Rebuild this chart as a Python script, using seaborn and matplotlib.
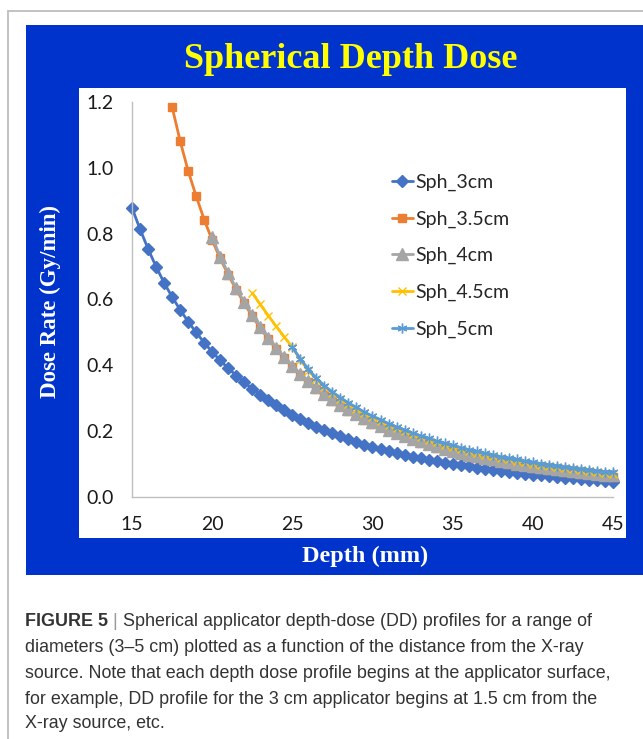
import numpy as np
import pandas as pd
import seaborn as sns
import matplotlib.pyplot as plt
from matplotlib.patches import Rectangle
from matplotlib.lines import Line2D

# Depth (mm) grids, 0.5 mm steps, each curve starts at its applicator surface
depth_3cm = np.arange(15.0, 45.01, 0.5)
depth_35cm = np.arange(17.5, 45.01, 0.5)
depth_4cm = np.arange(20.0, 45.01, 0.5)
depth_45cm = np.arange(22.5, 45.01, 0.5)
depth_5cm = np.arange(25.0, 45.01, 0.5)

# Dose rate (Gy/min)
sph_3cm = [0.878, 0.814, 0.754, 0.700, 0.651, 0.608, 0.569, 0.533, 0.500, 0.469,
           0.441, 0.415, 0.391, 0.369, 0.348, 0.329, 0.311, 0.294, 0.278, 0.263,
           0.250, 0.237, 0.225, 0.214, 0.203, 0.193, 0.184, 0.175, 0.167, 0.159,
           0.152, 0.145, 0.139, 0.133, 0.127, 0.122, 0.117, 0.112, 0.108, 0.104,
           0.100, 0.096, 0.093, 0.089, 0.086, 0.083, 0.079, 0.076, 0.074, 0.071,
           0.068, 0.066, 0.063, 0.061, 0.059, 0.057, 0.055, 0.053, 0.051, 0.049,
           0.047]
sph_35cm = [1.185, 1.082, 0.991, 0.914, 0.843, 0.780, 0.725, 0.675, 0.630, 0.588,
            0.549, 0.513, 0.480, 0.449, 0.421, 0.395, 0.371, 0.349, 0.329, 0.310,
            0.293, 0.277, 0.262, 0.248, 0.235, 0.223, 0.212, 0.201, 0.191, 0.182,
            0.173, 0.165, 0.157, 0.150, 0.143, 0.137, 0.131, 0.125, 0.120, 0.115,
            0.110, 0.105, 0.101, 0.097, 0.093, 0.089, 0.086, 0.083, 0.080, 0.077,
            0.074, 0.071, 0.069, 0.066, 0.064, 0.062]
sph_4cm = [0.790, 0.730, 0.680, 0.634, 0.592, 0.553, 0.517, 0.484, 0.453, 0.425,
           0.399, 0.375, 0.353, 0.333, 0.314, 0.297, 0.281, 0.266, 0.252, 0.239,
           0.227, 0.216, 0.205, 0.195, 0.186, 0.177, 0.169, 0.161, 0.154, 0.147,
           0.141, 0.135, 0.129, 0.124, 0.119, 0.114, 0.109, 0.105, 0.101, 0.097,
           0.093, 0.090, 0.087, 0.084, 0.081, 0.078, 0.075, 0.073, 0.070, 0.068,
           0.066]
sph_45cm = [0.620, 0.585, 0.551, 0.518, 0.486, 0.455, 0.416, 0.384, 0.357, 0.334,
            0.315, 0.298, 0.282, 0.268, 0.254, 0.242, 0.231, 0.219, 0.209, 0.200,
            0.190, 0.182, 0.174, 0.166, 0.159, 0.153, 0.146, 0.140, 0.135, 0.129,
            0.124, 0.118, 0.114, 0.110, 0.105, 0.101, 0.097, 0.094, 0.091, 0.087,
            0.084, 0.081, 0.079, 0.075, 0.073, 0.071]
sph_5cm = [0.455, 0.420, 0.388, 0.361, 0.338, 0.319, 0.302, 0.286, 0.272, 0.258,
           0.246, 0.235, 0.223, 0.213, 0.204, 0.194, 0.186, 0.178, 0.170, 0.163,
           0.157, 0.150, 0.144, 0.139, 0.133, 0.128, 0.122, 0.118, 0.114, 0.109,
           0.105, 0.101, 0.098, 0.095, 0.091, 0.088, 0.085, 0.083, 0.079, 0.077,
           0.075]

labels = ['Sph_3cm', 'Sph_3.5cm', 'Sph_4cm', 'Sph_4.5cm', 'Sph_5cm']
depths = [depth_3cm, depth_35cm, depth_4cm, depth_45cm, depth_5cm]
doses = [sph_3cm, sph_35cm, sph_4cm, sph_45cm, sph_5cm]
colors = ['#4472C4', '#ED7D31', '#A5A5A5', '#FFC000', '#5B9BD5']
markers = ['D', 's', '^', 'x', (6, 2, 0)]
msizes = [6.5, 6, 8, 6, 7]

x_ticks = [15, 20, 25, 30, 35, 40, 45]
y_ticks = [0.0, 0.2, 0.4, 0.6, 0.8, 1.0, 1.2]

W, H = 643, 739
sns.set_style('white')

fig = plt.figure(figsize=(W / 100, H / 100), dpi=100)


def px_rect(x0, y0, x1, y1, **kw):
    # rectangle given in pixel coords of the picture (origin top-left)
    return Rectangle((x0 / W, 1 - y1 / H), (x1 - x0) / W, (y1 - y0) / H,
                     transform=fig.transFigure, **kw)


# gray page frame, blue slide, white chart area
fig.add_artist(Line2D([8 / W, 8 / W], [0, 1 - 11 / H], transform=fig.transFigure,
                      color='#BDBDBD', lw=1.3))
fig.add_artist(Line2D([8 / W, 1], [1 - 11 / H, 1 - 11 / H], transform=fig.transFigure,
                      color='#BDBDBD', lw=1.3))
fig.add_artist(px_rect(26, 25, 643, 575, facecolor='#0033CC', edgecolor='none', zorder=0))
fig.add_artist(px_rect(79, 88, 626, 538, facecolor='white', edgecolor='none', zorder=0))

ax = fig.add_axes([132 / W, 1 - 497 / H, (613 - 132) / W, (497 - 102) / H])
ax.patch.set_alpha(0)

for d, v, c, m, ms, lab in zip(depths, doses, colors, markers, msizes, labels):
    df = pd.DataFrame({'Depth': d, 'Dose': v})
    sns.lineplot(data=df, x='Depth', y='Dose', ax=ax, color=c, marker=m,
                 markersize=ms, markeredgecolor=c, markerfacecolor=c,
                 markeredgewidth=1.0, linewidth=2.0, label=lab, clip_on=False)

ax.set_xlim(15, 45)
ax.set_ylim(0, 1.2)
ax.set_xticks(x_ticks)
ax.set_yticks(y_ticks)
ax.set_yticklabels([f'{t:.1f}' for t in y_ticks])
ax.set_xlabel('')
ax.set_ylabel('')
for s in ['top', 'right']:
    ax.spines[s].set_visible(False)
for s in ['left', 'bottom']:
    ax.spines[s].set_color('#BFBFBF')
    ax.spines[s].set_linewidth(1.0)
ax.tick_params(axis='both', direction='in', length=5, width=1, color='#BFBFBF',
               labelsize=14, labelcolor='#1a1a1a')
ax.tick_params(axis='y', pad=13)
ax.tick_params(axis='x', pad=14)
for t in ax.get_xticklabels() + ax.get_yticklabels():
    t.set_fontfamily('Lato')

leg = ax.legend(loc='upper left', bbox_to_anchor=(382 / W, 1 - 164 / H),
                bbox_transform=fig.transFigure, frameon=False, borderpad=0,
                handlelength=1.1, handletextpad=0.1, labelspacing=1.0,
                prop={'family': 'Lato', 'size': 14})

# slide title and axis titles
fig.text(351 / W, 1 - 59 / H, 'Spherical Depth Dose', ha='center', va='center',
         color='#FFFF00', fontsize=26, fontweight='bold', family='Liberation Serif')
fig.text(50 / W, 1 - 302 / H, 'Dose Rate (Gy/min)', ha='center', va='center',
         rotation=90, color='white', fontsize=16.5, fontweight='bold',
         family='Liberation Serif')
fig.text(365 / W, 1 - 556 / H, 'Depth (mm)', ha='center', va='center',
         color='white', fontsize=17.5, fontweight='bold', family='Liberation Serif')

# figure caption
cap_font = 'Liberation Sans'
cap_size = 12.9
cap_color = '#333333'
cap_lines = [
    'Spherical applicator depth-dose (DD) profiles for a range of',
    'diameters (3\u20135 cm) plotted as a function of the distance from the X-ray',
    'source. Note that each depth dose profile begins at the applicator surface,',
    'for example, DD profile for the 3 cm applicator begins at 1.5 cm from the',
    'X-ray source, etc.',
]
line_y = [622, 648, 673, 699, 724]
head = fig.text(25 / W, 1 - line_y[0] / H, 'FIGURE 5', ha='left', va='center',
                color=cap_color, fontsize=cap_size, fontweight='bold', family=cap_font)
bar = ax.annotate(' | ', xy=(1, 0.5), xycoords=head, ha='left', va='center',
                  color='#9a9a9a', fontsize=cap_size, family=cap_font,
                  annotation_clip=False)
ax.annotate(cap_lines[0], xy=(1, 0.5), xycoords=bar, ha='left', va='center',
            color=cap_color, fontsize=cap_size, family=cap_font, annotation_clip=False)
for txt, yy in zip(cap_lines[1:], line_y[1:]):
    fig.text(25 / W, 1 - yy / H, txt, ha='left', va='center', color=cap_color,
             fontsize=cap_size, family=cap_font)

fig.savefig('out.png', dpi=100)
